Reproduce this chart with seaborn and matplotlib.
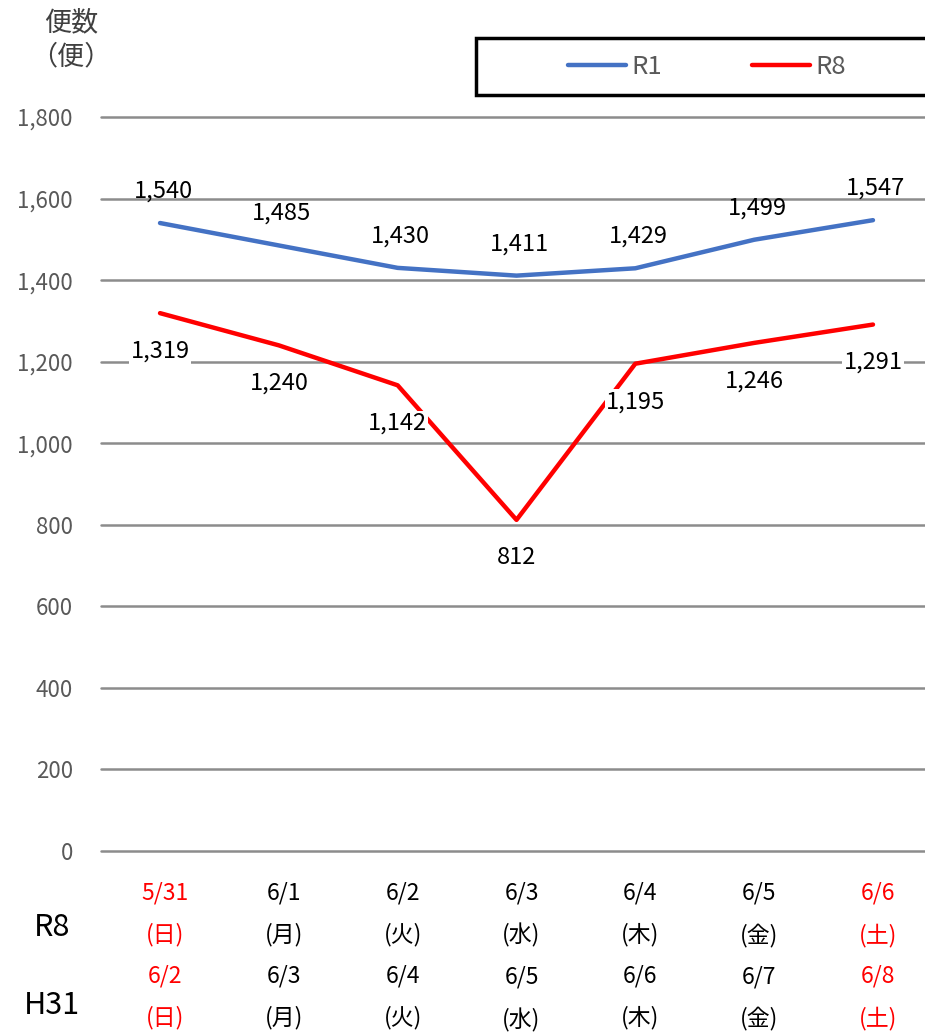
import matplotlib
matplotlib.use("Agg")
import matplotlib.pyplot as plt
import matplotlib.transforms as mtrans
import seaborn as sns
import pandas as pd
from matplotlib.patches import Rectangle
from matplotlib.lines import Line2D

# ---- data ----
dates_r8 = ["5/31", "6/1", "6/2", "6/3", "6/4", "6/5", "6/6"]
dates_h31 = ["6/2", "6/3", "6/4", "6/5", "6/6", "6/7", "6/8"]
weekdays = ["(日)", "(月)", "(火)", "(水)", "(木)", "(金)", "(土)"]
r1_values = [1540, 1485, 1430, 1411, 1429, 1499, 1547]
r8_values = [1319, 1240, 1142, 812, 1195, 1246, 1291]
series_names = ["R1", "R8"]
yticks = [0, 200, 400, 600, 800, 1000, 1200, 1400, 1600, 1800]
row_labels = ["R8", "H31"]
holiday_idx = [0, 6]

sns.set_theme(style="white")
plt.rcParams['font.family'] = ['Noto Sans CJK JP', 'DejaVu Sans']

df = pd.DataFrame({
    "x": list(range(len(dates_r8))) * 2,
    "value": r1_values + r8_values,
    "series": [series_names[0]] * len(r1_values) + [series_names[1]] * len(r8_values),
})

W, H = 925, 1033
fig = plt.figure(figsize=(W / 100, H / 100), dpi=100)
ax = fig.add_axes([100.6 / W, (H - 851) / H, 831.8 / W, 734 / H])

palette = {"R1": "#4472C4", "R8": "#FF0000"}
sns.lineplot(data=df, x="x", y="value", hue="series", palette=palette,
             linewidth=3.2, ax=ax, legend=False, zorder=3)
for l in ax.lines:
    l.set_solid_capstyle("round")
    l.set_clip_on(False)

ax.set_xlim(-0.5, 6.5)
ax.set_ylim(0, 1800)
ax.set_yticks(yticks)
ax.set_yticklabels([f"{v:,}" for v in yticks], fontsize=16, color="#595959")
ax.yaxis.grid(True, color="#8c8c8c", linewidth=1.8)
for gl in ax.get_ygridlines():
    gl.set_clip_on(False)
ax.xaxis.grid(False)
for s in ax.spines.values():
    s.set_visible(False)
ax.tick_params(axis="y", length=0, pad=20)
ax.tick_params(axis="x", length=0, pad=22)
ax.set_xlabel("")
ax.set_ylabel("")

ax.set_xticks(range(len(dates_r8)))
ax.set_xticklabels([f"{a}\n{w}\n{b}\n{w}" for a, b, w in zip(dates_r8, dates_h31, weekdays)],
                   fontsize=16.5, linespacing=1.99, va="top")
shift = mtrans.ScaledTranslation(5 / 100, 0, fig.dpi_scale_trans)
for i, t in enumerate(ax.get_xticklabels()):
    t.set_color("#FF0000" if i in holiday_idx else "#000000")
    t.set_transform(t.get_transform() + shift)

# data labels
bbox = dict(boxstyle="square,pad=0.05", facecolor="white", edgecolor="none")
for i, v in enumerate(r1_values):
    ax.annotate(f"{v:,}", (i, v), xytext=(3, 32), textcoords="offset pixels",
                ha="center", va="center", fontsize=17, color="black", zorder=5)
for i, v in enumerate(r8_values):
    ax.annotate(f"{v:,}", (i, v), xytext=(0, -38), textcoords="offset pixels",
                ha="center", va="center", fontsize=17, color="black", zorder=5, bbox=bbox)

# row labels
fig.text(52 / W, 1 - 928 / H, row_labels[0], fontsize=22, ha="center", va="center", color="black")
fig.text(52 / W, 1 - 1005 / H, row_labels[1], fontsize=22, ha="center", va="center", color="black")

# y-axis unit label
fig.text(71 / W, 1 - 40 / H, "便数\n（便）", fontsize=19.5, ha="center", va="center",
         color="#404040", linespacing=1.32)

# legend box
fig.patches.append(Rectangle((476 / W, 1 - 95 / H), 470 / W, 57 / H, transform=fig.transFigure,
                             facecolor="white", edgecolor="black", linewidth=2.5, clip_on=False))
handles = [Line2D([], [], color=palette[n], linewidth=3.2, solid_capstyle="round") for n in series_names]
leg = fig.legend(handles, series_names, loc="center", bbox_to_anchor=(707 / W, 1 - 67 / H),
                 ncol=2, frameon=False, fontsize=18.5, handlelength=2.26, handletextpad=0.2,
                 columnspacing=3.5)
for t in leg.get_texts():
    t.set_color("#595959")

fig.savefig("out.png", dpi=100)
